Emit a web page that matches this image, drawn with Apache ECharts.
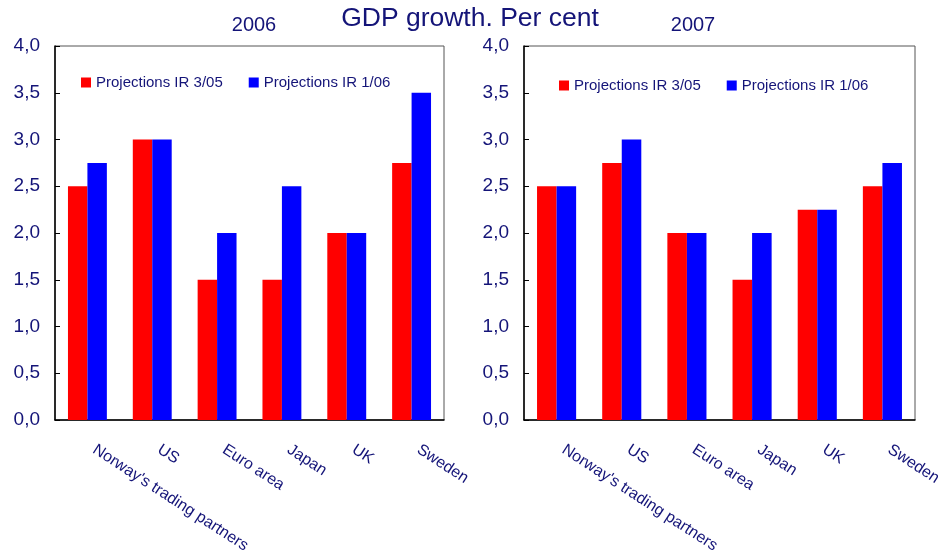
<!DOCTYPE html>
<html>
<head>
<meta charset="utf-8">
<script src="https://cdn.jsdelivr.net/npm/echarts@6/dist/echarts.min.js"></script>
<style>
html,body{margin:0;padding:0;background:#fff;}
#chart{width:938px;height:552px;}
</style>
</head>
<body>
<div id="chart"></div>
<script>
const categories = ["Norway's trading partners", "US", "Euro area", "Japan", "UK", "Sweden"];
const seriesNames = ["Projections IR 3/05", "Projections IR 1/06"];
const values2006_IR305 = [2.5, 3.0, 1.5, 1.5, 2.0, 2.75];
const values2006_IR106 = [2.75, 3.0, 2.0, 2.5, 2.0, 3.5];
const values2007_IR305 = [2.5, 2.75, 2.0, 1.5, 2.25, 2.5];
const values2007_IR106 = [2.5, 3.0, 2.0, 2.0, 2.25, 2.75];
const panelTitles = ["2006", "2007"];
const mainTitle = "GDP growth. Per cent";

const navy = '#141478';
const font = 'Liberation Sans, Arial, sans-serif';
const colors = ['#ff0000', '#0000ff'];

const chart = echarts.init(document.getElementById('chart'));

function xAxis(i) {
  return {
    type: 'category', gridIndex: i, data: categories,
    axisLine: {lineStyle: {color: '#000', width: 1.5}},
    axisTick: {inside: true, length: 4, lineStyle: {color: '#000'}},
    axisLabel: {rotate: -33, color: navy, fontSize: 16, fontFamily: font, margin: 24,
      padding: [0, 0, 0, 8], interval: 0},
    splitLine: {show: false}
  };
}
function yAxis(i) {
  return {
    type: 'value', gridIndex: i, min: 0, max: 4, interval: 0.5,
    axisLine: {show: true, lineStyle: {color: '#000', width: 1.5}},
    axisTick: {show: true, inside: true, length: 5, lineStyle: {color: '#000'}},
    axisLabel: {color: navy, fontSize: 19, fontFamily: font, margin: 15,
      formatter: v => v.toFixed(1).replace('.', ',')},
    splitLine: {show: false}
  };
}
function bar(name, data, idx, color) {
  return {
    type: 'bar', name: name, data: data, xAxisIndex: idx, yAxisIndex: idx,
    itemStyle: {color: color}, barGap: '0%', barCategoryGap: '40%',
    emphasis: {disabled: true}
  };
}
function legend(left, top) {
  return {
    left: left, top: top, data: seriesNames, icon: 'rect', itemWidth: 10, itemHeight: 10,
    itemGap: 26, textStyle: {color: navy, fontSize: 15, fontFamily: font}, selectedMode: false
  };
}

chart.setOption({
  animation: false,
  title: [
    {text: mainTitle, left: 465, textAlign: 'center', top: 0,
      textStyle: {color: navy, fontSize: 26.5, fontWeight: 'normal', fontFamily: font}},
    {text: panelTitles[0], left: 249, textAlign: 'center', top: 10,
      textStyle: {color: navy, fontSize: 20, fontWeight: 'normal', fontFamily: font}},
    {text: panelTitles[1], left: 688, textAlign: 'center', top: 10,
      textStyle: {color: navy, fontSize: 20, fontWeight: 'normal', fontFamily: font}}
  ],
  legend: [legend(76, 70), legend(554, 73)],
  grid: [
    {left: 55, top: 46, width: 389, height: 374, containLabel: false, outerBoundsMode: 'none',
      show: true, borderColor: '#555', borderWidth: 1, backgroundColor: 'transparent'},
    {left: 524, top: 46, width: 391, height: 374, containLabel: false, outerBoundsMode: 'none',
      show: true, borderColor: '#555', borderWidth: 1, backgroundColor: 'transparent'}
  ],
  xAxis: [xAxis(0), xAxis(1)],
  yAxis: [yAxis(0), yAxis(1)],
  series: [
    bar(seriesNames[0], values2006_IR305, 0, colors[0]),
    bar(seriesNames[1], values2006_IR106, 0, colors[1]),
    bar(seriesNames[0], values2007_IR305, 1, colors[0]),
    bar(seriesNames[1], values2007_IR106, 1, colors[1])
  ]
});
</script>
</body>
</html>
